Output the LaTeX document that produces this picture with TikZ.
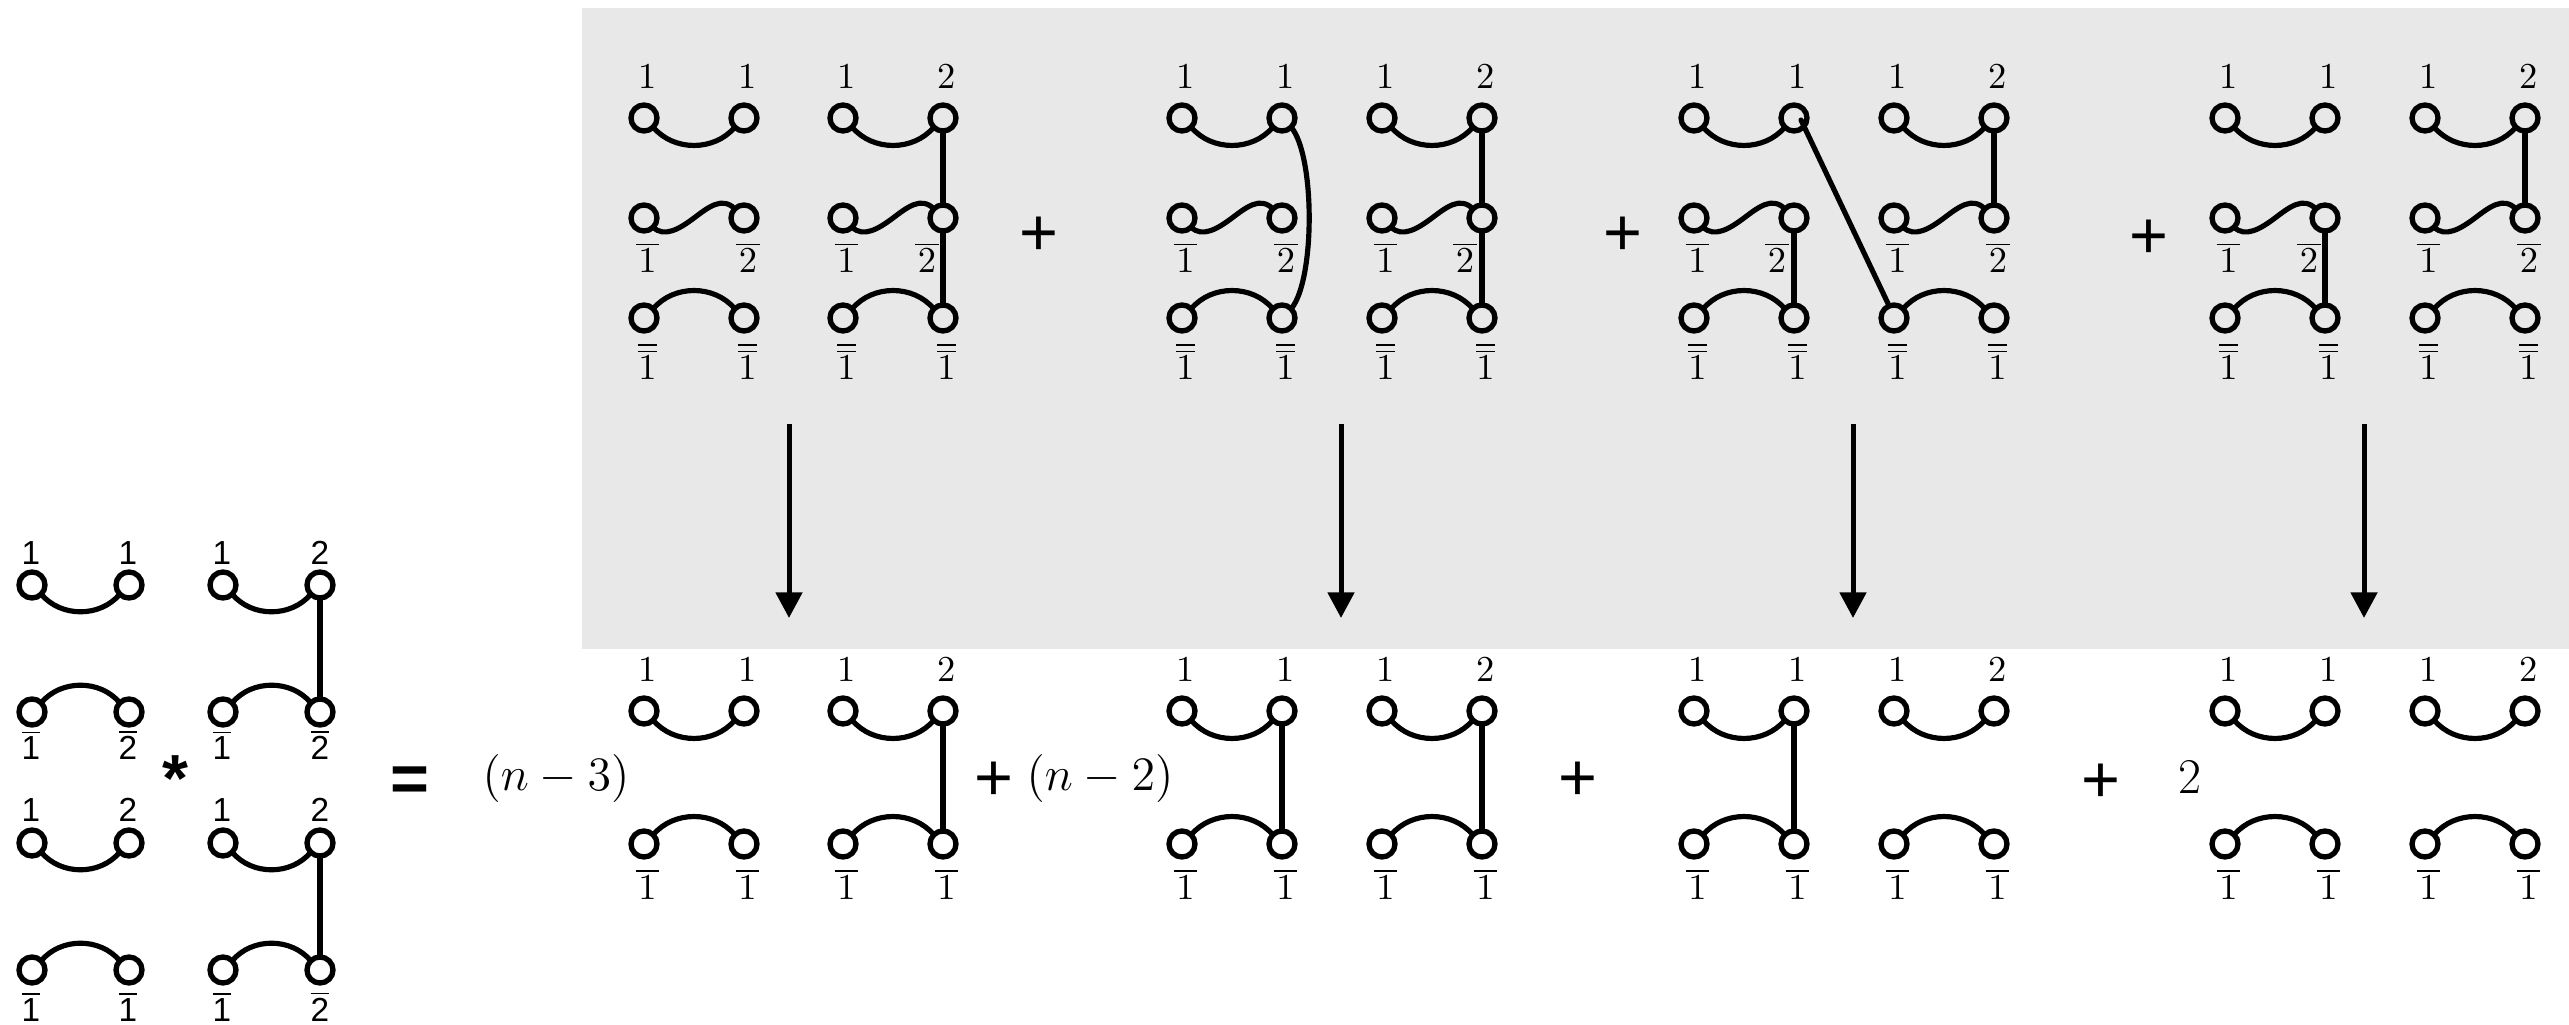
\documentclass[tikz,border=0pt]{standalone}
\usepackage{fontspec}
\setsansfont{Liberation Sans}
\usetikzlibrary{arrows.meta,calc}
\definecolor{panelgray}{HTML}{E8E8E8}
\newcommand\ob[1]{$\overline{\kern.8pt #1\kern.8pt}$}
\newcommand\obb[1]{$\overline{\overline{#1}}$}
\newcommand\sob[1]{$\overline{\mbox{\sffamily #1}}$}
\tikzset{
  x=0.3pt,y=-0.3pt,
  vtx/.style={circle,draw=black,line width=1.6pt,minimum size=7.8pt,inner sep=0pt,outer sep=0pt},
  edge/.style={line width=1.55pt,draw=black,line cap=round},
  lab/.style={anchor=base,inner sep=0pt,outer sep=0pt,font=\fontsize{10.95}{12}\selectfont},
  slab/.style={anchor=base,inner sep=0pt,outer sep=0pt,font=\fontsize{10}{12}\selectfont\sffamily},
  plus/.style={anchor=base,inner sep=0pt,font=\fontsize{20}{24}\selectfont\sffamily},
  coef/.style={anchor=base,inner sep=0pt,font=\fontsize{14.4}{17}\selectfont},
  bigsym/.style={anchor=base,inner sep=0pt,font=\fontsize{20}{24}\selectfont\sffamily\bfseries},
  flow/.style={line width=1.5pt,-{Triangle[length=7.7pt,width=7.8pt]}},
}
\newcommand\Udown[2]{\draw[edge] (#1.-45) to[bend right=50] (#2.-135);}
\newcommand\Uup[2]{\draw[edge] (#1.45) to[bend left=50] (#2.135);}
\newcommand\Swave[2]{\draw[edge] (#1.-45) .. controls +(11,11) and ($($(#1)!.5!(#2)$)+(-14,10.5)$) .. ($(#1)!.5!(#2)$) .. controls +(14,-10.5) and ($($(#1)!.5!(#2)$)+(28,-22)$) .. (#2.135);}
\begin{document}
\begin{tikzpicture}
\useasboundingbox (0,0) rectangle (2569,1025);
\fill[panelgray] (582,8) rectangle (2569,649);
% top row of diagrams
\foreach \g/\xa/\xb/\xc/\xd/\lb/\ld in {1/644/744/843/943/748/927,2/1182/1282/1382/1482/1286/1465,3/1694/1794/1894/1994/1777/1998,4/2225/2325/2425/2525/2309/2529}{
  \foreach \c/\x in {1/\xa,2/\xb,3/\xc,4/\xd}{
    \node[vtx] (t\g-\c-1) at (\x,118) {};
    \node[vtx] (t\g-\c-2) at (\x,218) {};
    \node[vtx] (t\g-\c-3) at (\x,318) {};
    \node[lab] (tl\g-\c-3) at ($(\x,380)+(3.5,0)$) {\obb{1}};
  }
  \node[lab] (tl\g-1-1) at ($(\xa,89)+(3.5,0)$) {1};
  \node[lab] (tl\g-2-1) at ($(\xb,89)+(3.5,0)$) {1};
  \node[lab] (tl\g-3-1) at ($(\xc,89)+(3.5,0)$) {1};
  \node[lab] (tl\g-4-1) at ($(\xd,89)+(3.5,0)$) {2};
  \node[lab] (tl\g-1-2) at ($(\xa,272.7)+(3.5,0)$) {\ob{1}};
  \node[lab] (tl\g-2-2) at (\lb,272.7) {\ob{2}};
  \node[lab] (tl\g-3-2) at ($(\xc,272.7)+(3.5,0)$) {\ob{1}};
  \node[lab] (tl\g-4-2) at (\ld,272.7) {\ob{2}};
  \Udown{t\g-1-1}{t\g-2-1}
  \Udown{t\g-3-1}{t\g-4-1}
  \Swave{t\g-1-2}{t\g-2-2}
  \Swave{t\g-3-2}{t\g-4-2}
  \Uup{t\g-1-3}{t\g-2-3}
  \Uup{t\g-3-3}{t\g-4-3}
}
% bottom row of diagrams
\foreach \g/\xa/\xb/\xc/\xd in {1/644/744/843/943,2/1182/1282/1382/1482,3/1694/1794/1894/1994,4/2225/2325/2425/2525}{
  \foreach \c/\x in {1/\xa,2/\xb,3/\xc,4/\xd}{
    \node[vtx] (b\g-\c-1) at (\x,711) {};
    \node[vtx] (b\g-\c-2) at (\x,844) {};
    \node[lab] (bl\g-\c-2) at ($(\x,899.3)+(3.5,0)$) {\ob{1}};
  }
  \node[lab] (bl\g-1-1) at ($(\xa,681.7)+(3.5,0)$) {1};
  \node[lab] (bl\g-2-1) at ($(\xb,681.7)+(3.5,0)$) {1};
  \node[lab] (bl\g-3-1) at ($(\xc,681.7)+(3.5,0)$) {1};
  \node[lab] (bl\g-4-1) at ($(\xd,681.7)+(3.5,0)$) {2};
  \Udown{b\g-1-1}{b\g-2-1}
  \Udown{b\g-3-1}{b\g-4-1}
  \Uup{b\g-1-2}{b\g-2-2}
  \Uup{b\g-3-2}{b\g-4-2}
}
% extra connectors, top
\draw[edge] (t1-4-1.south) -- (t1-4-2.north);
\draw[edge] (t1-4-2.south) -- (t1-4-3.north);
\draw[edge] (t2-2-1.-45) .. controls +(24,29) and +(24,-29) .. (t2-2-3.45);
\draw[edge] (t2-4-1.south) -- (t2-4-2.north);
\draw[edge] (t2-4-2.south) -- (t2-4-3.north);
\draw[edge] (t3-2-2.south) -- (t3-2-3.north);
\draw[edge] (t3-4-1.south) -- (t3-4-2.north);
\coordinate (diagstart) at ($(t3-2-1)+(7,2)$);
\draw[edge] (diagstart) -- (t3-3-3.112);
\draw[edge] (t4-2-2.south) -- (t4-2-3.north);
\draw[edge] (t4-4-1.south) -- (t4-4-2.north);
% extra connectors, bottom
\draw[edge] (b1-4-1.south) -- (b1-4-2.north);
\draw[edge] (b2-2-1.south) -- (b2-2-2.north);
\draw[edge] (b2-4-1.south) -- (b2-4-2.north);
\draw[edge] (b3-2-1.south) -- (b3-2-2.north);
% left factor diagrams
\foreach \c/\x in {1/32,2/129,3/223,4/320}{
  \node[vtx] (l\c-1) at (\x,585) {};
  \node[vtx] (l\c-2) at (\x,712) {};
  \node[vtx] (l\c-3) at (\x,843) {};
  \node[vtx] (l\c-4) at (\x,970) {};
}
\Udown{l1-1}{l2-1} \Udown{l3-1}{l4-1}
\Uup{l1-2}{l2-2} \Uup{l3-2}{l4-2}
\Udown{l1-3}{l2-3} \Udown{l3-3}{l4-3}
\Uup{l1-4}{l2-4} \Uup{l3-4}{l4-4}
\draw[edge] (l4-1.south) -- (l4-2.north);
\draw[edge] (l4-3.south) -- (l4-4.north);
\node[slab] (ll11) at (31,565) {1};
\node[slab] (ll21) at (128,565) {1};
\node[slab] (ll31) at (222,565) {1};
\node[slab] (ll41) at (320,565) {2};
\node[slab] (ll12) at (31,760) {\sob{1}};
\node[slab] (ll22) at (128,760) {\sob{2}};
\node[slab] (ll32) at (222,760) {\sob{1}};
\node[slab] (ll42) at (320,760) {\sob{2}};
\node[slab] (ll13) at (31,821.7) {1};
\node[slab] (ll23) at (128,821.7) {2};
\node[slab] (ll33) at (222,821.7) {1};
\node[slab] (ll43) at (320,821.7) {2};
\node[slab] (ll14) at (31,1021.7) {\sob{1}};
\node[slab] (ll24) at (128,1021.7) {\sob{1}};
\node[slab] (ll34) at (222,1021.7) {\sob{1}};
\node[slab] (ll44) at (320,1021.7) {\sob{2}};
% operators and coefficients
\node[bigsym] (star) at (175.5,802) {*};
\node[bigsym] (eq) at (409.5,802) {=};
\node[coef] (c1) at (556,791) {$(n-3)$};
\node[coef] (c2) at (1100,791) {$(n-2)$};
\node[anchor=base,inner sep=0pt,font=\fontsize{15}{18}\selectfont] (c4) at (2190,794) {2};
\node[plus] (p1) at (1039,256) {+};
\node[plus] (p2) at (1623,256) {+};
\node[plus] (p3) at (2149,258.5) {+};
\node[plus] (p4) at (994,800.5) {+};
\node[plus] (p5) at (1578,800.5) {+};
\node[plus] (p6) at (2101,802.5) {+};
% arrows
\foreach \i/\x in {1/789,2/1341,3/1853,4/2364}{
  \coordinate (as\i) at (\x,424);
  \coordinate (ae\i) at (\x,618);
  \draw[flow] (as\i) -- (ae\i);
}
\end{tikzpicture}
\end{document}
